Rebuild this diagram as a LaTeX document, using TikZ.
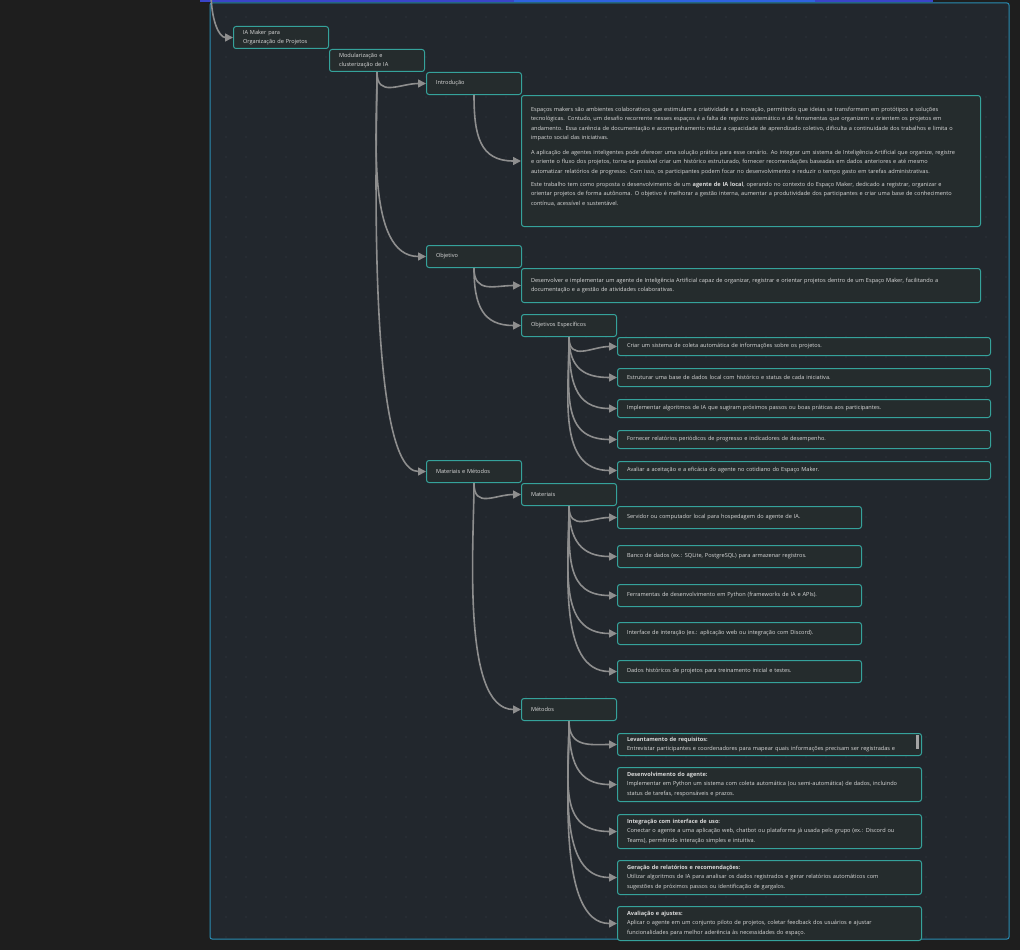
\documentclass[tikz,border=0pt]{standalone}
\usepackage{fontspec}
\setmainfont{Open Sans}
\usetikzlibrary{arrows.meta}
\definecolor{bgdark}{HTML}{1E1E1E}
\definecolor{panel}{HTML}{22272D}
\definecolor{panelborder}{HTML}{2A8DB4}
\definecolor{nodefill}{HTML}{252C2D}
\definecolor{nodeborder}{HTML}{35A29B}
\definecolor{txt}{HTML}{DADADA}
\definecolor{edgecol}{HTML}{8E8E8E}
\definecolor{dotcol}{HTML}{3A4047}
\definecolor{topblue}{HTML}{3A44C8}
\definecolor{topbright}{HTML}{2F62E0}
\newcommand\fs{\fontsize{5.6}{9.6}\selectfont}
\tikzset{
  box/.style={draw=nodeborder, line width=1pt, fill=nodefill, rounded corners=2.5pt,
    anchor=north west, inner xsep=9.5pt, inner ysep=0pt, align=left, text=txt, font=\fs},
  conn/.style={draw=edgecol, line width=1.6pt, -{Triangle[length=8pt,width=8pt]}},
}
\newcommand\mkbox[6]{\pgfmathsetmacro\mytw{#4-19}%
  \node[box, minimum width=#4pt, minimum height=#5pt, text width=\mytw pt] (#1) at (#2,#3) {#6};}
\newcommand\conn[3]{\draw[conn] (#1.south) .. controls +(0,#3) and +(-#3,0) .. (#2.west);}
\begin{document}
\begin{tikzpicture}[x=1pt,y=-1pt]
\useasboundingbox (0,0) rectangle (1020,950);
\fill[bgdark] (0,0) rectangle (1020,950);
\draw[panelborder, fill=panel, line width=1pt, rounded corners=2pt] (210,3) rectangle (1009,939);
\draw[topblue, line width=1.5pt] (200,1) -- (933,1);
\draw[topbright, line width=1.5pt] (514,1) -- (815,1);
\foreach \x in {226,246,...,1006}
  \foreach \y in {17,37,...,937}
    \fill[dotcol] (\x,\y) circle (0.7);

% nodes
\mkbox{ia}{233}{26}{95}{22}{IA Maker para\\Organização de Projetos}
\mkbox{mod}{329}{49}{95}{22}{Modularização e\\clusterização de IA}
\mkbox{intro}{426}{72}{95}{22}{Introdução}
\mkbox{introtext}{521}{95}{459}{131}{Espaços makers são ambientes colaborativos que estimulam a criatividade e a inovação, permitindo que ideias se transformem em protótipos e soluções\\
tecnológicas. Contudo, um desafio recorrente nesses espaços é a falta de registro sistemático e de ferramentas que organizem e orientem os projetos em\\
andamento. Essa carência de documentação e acompanhamento reduz a capacidade de aprendizado coletivo, dificulta a continuidade dos trabalhos e limita o\\
impacto social das iniciativas.\\[4.5pt]
A aplicação de agentes inteligentes pode oferecer uma solução prática para esse cenário. Ao integrar um sistema de Inteligência Artificial que organize, registre\\
e oriente o fluxo dos projetos, torna-se possível criar um histórico estruturado, fornecer recomendações baseadas em dados anteriores e até mesmo\\
automatizar relatórios de progresso. Com isso, os participantes podem focar no desenvolvimento e reduzir o tempo gasto em tarefas administrativas.\\[3.5pt]
Este trabalho tem como proposta o desenvolvimento de um \textbf{agente de IA local}, operando no contexto do Espaço Maker, dedicado a registrar, organizar e\\
orientar projetos de forma autônoma. O objetivo é melhorar a gestão interna, aumentar a produtividade dos participantes e criar uma base de conhecimento\\
contínua, acessível e sustentável.\\\mbox{}}
\mkbox{obj}{426}{245}{95}{22}{Objetivo}
\mkbox{objdesc}{521}{268}{459}{34}{Desenvolver e implementar um agente de Inteligência Artificial capaz de organizar, registrar e orientar projetos dentro de um Espaço Maker, facilitando a\\
documentação e a gestão de atividades colaborativas.}
\mkbox{objesp}{521}{314}{95}{22}{Objetivos Específicos}
\mkbox{oe1}{617}{337}{373}{18}{Criar um sistema de coleta automática de informações sobre os projetos.}
\mkbox{oe2}{617}{368}{373}{18}{Estruturar uma base de dados local com histórico e status de cada iniciativa.}
\mkbox{oe3}{617}{399}{373}{18}{Implementar algoritmos de IA que sugiram próximos passos ou boas práticas aos participantes.}
\mkbox{oe4}{617}{430}{373}{18}{Fornecer relatórios periódicos de progresso e indicadores de desempenho.}
\mkbox{oe5}{617}{461}{373}{18}{Avaliar a aceitação e a eficácia do agente no cotidiano do Espaço Maker.}
\mkbox{mm}{426}{460}{95}{22}{Materiais e Métodos}
\mkbox{mat}{521}{483}{95}{22}{Materiais}
\mkbox{ma1}{617}{506}{244}{22}{Servidor ou computador local para hospedagem do agente de IA.}
\mkbox{ma2}{617}{545}{244}{22}{Banco de dados (ex.: SQLite, PostgreSQL) para armazenar registros.}
\mkbox{ma3}{617}{584}{244}{22}{Ferramentas de desenvolvimento em Python (frameworks de IA e APIs).}
\mkbox{ma4}{617}{622}{244}{22}{Interface de interação (ex.: aplicação web ou integração com Discord).}
\mkbox{ma5}{617}{660}{244}{22}{Dados históricos de projetos para treinamento inicial e testes.}
\mkbox{met}{521}{698}{95}{22}{Métodos}
\mkbox{me1}{617}{733}{304}{22}{\textbf{Levantamento de requisitos:}\\Entrevistar participantes e coordenadores para mapear quais informações precisam ser registradas e}
\mkbox{me2}{617}{767}{304}{34}{\textbf{Desenvolvimento do agente:}\\Implementar em Python um sistema com coleta automática (ou semi-automática) de dados, incluindo\\status de tarefas, responsáveis e prazos.}
\mkbox{me3}{617}{814}{304}{34}{\textbf{Integração com interface de uso:}\\Conectar o agente a uma aplicação web, chatbot ou plataforma já usada pelo grupo (ex.: Discord ou\\Teams), permitindo interação simples e intuitiva.}
\mkbox{me4}{617}{860}{304}{34}{\textbf{Geração de relatórios e recomendações:}\\Utilizar algoritmos de IA para analisar os dados registrados e gerar relatórios automáticos com\\sugestões de próximos passos ou identificação de gargalos.}
\mkbox{me5}{617}{906}{304}{34}{\textbf{Avaliação e ajustes:}\\Aplicar o agente em um conjunto piloto de projetos, coletar feedback dos usuários e ajustar\\funcionalidades para melhor aderência às necessidades do espaço.}
\fill[edgecol!80] (916,735) rectangle (918.5,749);

% connectors
\coordinate (incoming) at (211,-8);
\draw[conn] (incoming) .. controls +(0,28) and +(-14,0) .. (ia.west);
\conn{mod}{intro}{26}
\conn{mod}{obj}{60}
\conn{mod}{mm}{60}
\conn{intro}{introtext}{41}
\conn{obj}{objdesc}{26}
\conn{obj}{objesp}{38}
\conn{objesp}{oe1}{25}
\conn{objesp}{oe2}{32}
\conn{objesp}{oe3}{43}
\conn{objesp}{oe4}{56}
\conn{objesp}{oe5}{60}
\conn{mm}{mat}{26}
\conn{mm}{met}{60}
\conn{mat}{ma1}{26}
\conn{mat}{ma2}{35}
\conn{mat}{ma3}{51}
\conn{mat}{ma4}{60}
\conn{mat}{ma5}{60}
\conn{met}{me1}{27}
\conn{met}{me2}{40}
\conn{met}{me3}{60}
\conn{met}{me4}{60}
\conn{met}{me5}{60}
\end{tikzpicture}
\end{document}
